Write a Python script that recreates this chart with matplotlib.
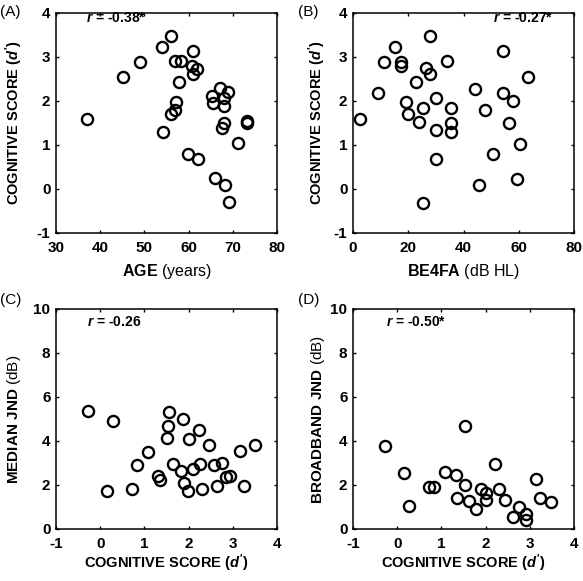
import numpy as np
import matplotlib
matplotlib.use('Agg')
import matplotlib.pyplot as plt

plt.rcParams['font.family'] = ['Liberation Sans', 'DejaVu Sans']
plt.rcParams['font.weight'] = 'bold'
plt.rcParams['axes.labelweight'] = 'bold'
plt.rcParams['mathtext.fontset'] = 'custom'
plt.rcParams['mathtext.rm'] = 'Liberation Sans'
plt.rcParams['mathtext.it'] = 'Liberation Sans:italic:bold'
plt.rcParams['mathtext.bf'] = 'Liberation Sans:bold'
plt.rcParams['axes.unicode_minus'] = False

# (A) age vs cognitive score
age = [37.1, 45.1, 49.0, 54.0, 56.1, 56.9, 58.2, 57.9, 61.0, 60.8, 61.0, 62.0,
       57.1, 57.0, 56.0, 54.1, 59.9, 62.1, 66.0, 68.2, 69.1, 67.1, 69.0, 65.2,
       65.6, 68.1, 67.9, 68.1, 67.5, 73.2, 73.2, 71.2]
score_a = [1.60, 2.55, 2.88, 3.22, 3.48, 2.90, 2.90, 2.43, 3.13, 2.80, 2.62, 2.72,
           1.98, 1.79, 1.70, 1.30, 0.79, 0.68, 0.24, 0.10, -0.30, 2.29, 2.21, 2.11,
           1.95, 1.89, 2.06, 1.49, 1.38, 1.55, 1.49, 1.05]

# (B) BE4FA vs cognitive score
be4fa = [2.5, 9.1, 11.3, 15.2, 17.4, 17.4, 19.1, 20.0, 22.8, 24.0, 25.4, 25.4,
         26.3, 27.7, 27.7, 30.2, 30.2, 30.2, 34.0, 35.6, 35.6, 35.6, 44.3, 47.9,
         45.5, 50.6, 54.2, 54.2, 58.0, 56.6, 60.5, 59.4, 63.4]
score_b = [1.60, 2.18, 2.89, 3.23, 2.89, 2.80, 1.98, 1.70, 2.43, 1.52, 1.85, -0.31,
           2.74, 2.62, 3.47, 2.07, 1.33, 0.69, 2.90, 1.84, 1.50, 1.30, 2.27, 1.79,
           0.10, 0.79, 3.13, 2.18, 1.99, 1.50, 1.03, 0.23, 2.55]

# (C) cognitive score vs median JND
score_c = [-0.27, 0.28, 0.15, 0.72, 0.83, 1.08, 1.31, 1.36, 1.55, 1.53, 1.51, 1.87,
           2.00, 2.23, 2.46, 1.64, 1.82, 1.89, 1.99, 2.10, 2.25, 2.31, 2.57, 2.76,
           2.65, 2.84, 2.93, 3.25, 3.17, 3.50]
median_jnd = [5.38, 4.93, 1.72, 1.80, 2.90, 3.50, 2.41, 2.25, 5.31, 4.68, 4.15, 5.01,
              4.10, 4.51, 3.80, 2.97, 2.62, 2.10, 1.72, 2.74, 2.94, 1.81, 2.90, 3.02,
              1.95, 2.37, 2.41, 1.95, 3.53, 3.80]

# (D) cognitive score vs broadband JND
score_d = [-0.28, 0.15, 0.27, 0.71, 0.83, 1.08, 1.32, 1.53, 1.53, 1.35, 1.62, 1.79,
           1.89, 2.00, 2.00, 2.22, 2.30, 2.45, 2.75, 2.92, 2.62, 3.15, 3.24, 3.47, 2.92]
broadband_jnd = [3.77, 2.53, 1.04, 1.91, 1.93, 2.61, 2.47, 4.66, 1.99, 1.43, 1.28, 0.89,
                 1.84, 1.31, 1.62, 2.97, 1.84, 1.31, 0.98, 0.68, 0.56, 2.26, 1.43, 1.21, 0.41]

r_texts = ['-0.38*', '-0.27*', '-0.26', '-0.50*']

fig = plt.figure(figsize=(5.83, 5.81), dpi=100)
W, H = 583.0, 581.0

def make_ax(left, top, xlim, ylim, xticks, yticks):
    ax = fig.add_axes([left / W, 1 - (top + 220) / H, 221 / W, 220 / H])
    ax.set_xlim(xlim)
    ax.set_ylim(ylim)
    ax.set_xticks(list(xticks))
    ax.set_yticks(list(yticks))
    ax.set_xticklabels([str(t) for t in xticks], fontweight='bold')
    ax.set_yticklabels([str(t) for t in yticks], fontweight='bold')
    ax.tick_params(direction='in', top=True, right=True, length=2.5, width=1,
                   labelsize=11)
    ax.tick_params(axis='x', pad=6)
    ax.tick_params(axis='y', pad=4)
    for s in ax.spines.values():
        s.set_linewidth(1.1)
    return ax

def circles(ax, x, y):
    ax.plot(x, y, 'o', mfc='none', mec='black', ms=8, mew=1.7, clip_on=False)

cog_label = "COGNITIVE SCORE ($d'$)"

axA = make_ax(56, 13, (30, 80), (-1, 4), range(30, 81, 10), range(-1, 5))
circles(axA, age, score_a)
axA.set_xlabel(r'$\mathbf{AGE}$ (years)', fontsize=11.5, fontweight='normal')
axA.set_ylabel(cog_label, fontsize=10.5, fontweight='bold')
axA.text(0.135, 0.975, '$r$ = ' + r_texts[0], transform=axA.transAxes,
         fontsize=10, va='center', ha='left')

axB = make_ax(353, 13, (0, 80), (-1, 4), range(0, 81, 20), range(-1, 5))
circles(axB, be4fa, score_b)
axB.set_xlabel(r'$\mathbf{BE4FA}$ (dB HL)', fontsize=11.5, fontweight='normal')
axB.set_ylabel(cog_label, fontsize=10.5, fontweight='bold')
axB.text(0.905, 0.975, '$r$ = ' + r_texts[1], transform=axB.transAxes,
         fontsize=10, va='center', ha='right')

axC = make_ax(56, 309, (-1, 4), (0, 10), range(-1, 5), range(0, 11, 2))
circles(axC, score_c, median_jnd)
axC.set_xlabel(cog_label, fontsize=10.5, fontweight='bold')
axC.set_ylabel(r'$\mathbf{MEDIAN\ JND}$ (dB)', fontsize=11, fontweight='normal')
axC.text(0.142, 0.942, '$r$ = ' + r_texts[2], transform=axC.transAxes,
         fontsize=10, va='center', ha='left')

axD = make_ax(353, 309, (-1, 4), (0, 10), range(-1, 5), range(0, 11, 2))
circles(axD, score_d, broadband_jnd)
axD.set_xlabel(cog_label, fontsize=10.5, fontweight='bold')
axD.set_ylabel(r'$\mathbf{BROADBAND\ JND}$ (dB)', fontsize=11, fontweight='normal')
axD.text(0.148, 0.942, '$r$ = ' + r_texts[3], transform=axD.transAxes,
         fontsize=10, va='center', ha='left')

# label positions
for ax, ylx in [(axA, -0.19), (axB, -0.16), (axC, -0.19), (axD, -0.16)]:
    ax.yaxis.set_label_coords(ylx, 0.5)
    ax.yaxis.label.set_va('center')
for ax, xly in [(axA, -0.177), (axB, -0.177), (axC, -0.154), (axD, -0.154)]:
    ax.xaxis.set_label_coords(0.5, xly)
    ax.xaxis.label.set_va('center')

for lab, x, y in [('(A)', 0, 12), ('(B)', 298, 12), ('(C)', 0, 300), ('(D)', 298, 300)]:
    fig.text(x / W, 1 - y / H, lab, fontsize=11, fontweight='normal',
             va='center', ha='left')

fig.canvas.draw()
for ax in fig.axes:
    for lab in ax.get_xticklabels() + ax.get_yticklabels():
        lab.set_fontweight('bold')

fig.savefig('out.png', dpi=100)
